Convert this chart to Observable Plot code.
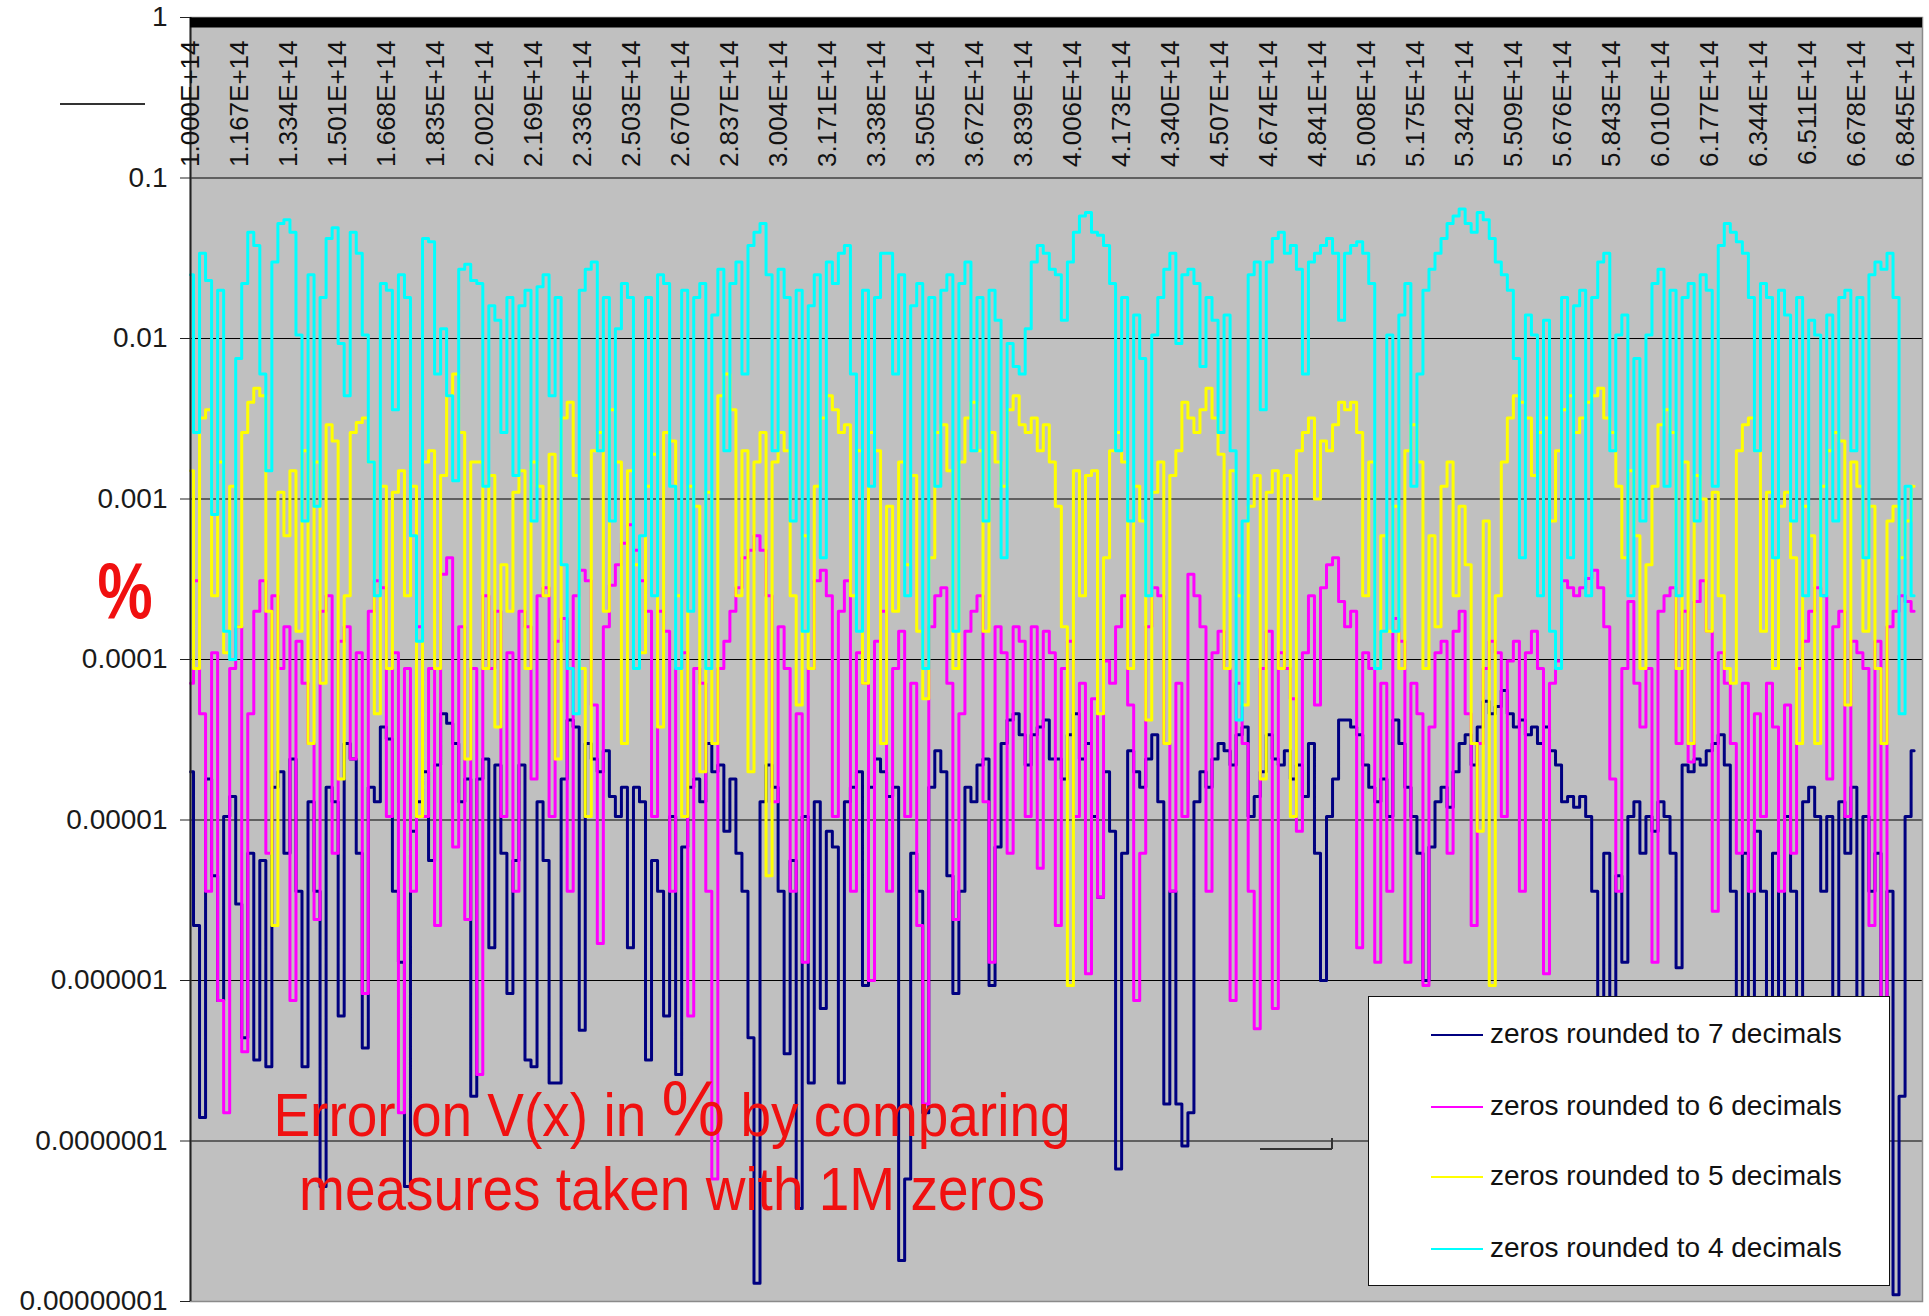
<!DOCTYPE html>
<html>
<head>
<meta charset="utf-8">
<script src="https://cdn.jsdelivr.net/npm/d3@7"></script>
<script src="https://cdn.jsdelivr.net/npm/@observablehq/plot@0.6"></script>
<style>
  html, body { margin: 0; padding: 0; background: #fff; }
  #wrap { position: relative; width: 1929px; height: 1316px; overflow: hidden;
          font-family: "Liberation Sans", Arial, sans-serif; }
  #chart svg { display: block; }
  .legend { position: absolute; left: 1368px; top: 996px; width: 522px; height: 290px;
            background: #fff; border: 1.5px solid #111; box-sizing: border-box; }
  .swatch { position: absolute; left: 62px; width: 52px; height: 0; border-top: 2px solid; }
  .ltext { position: absolute; left: 121px; font-size: 28px; line-height: 28px; white-space: nowrap; color: #111; }
  .note { position: absolute; left: 672px; color: #f01010; font-size: 55px; line-height: 55px;
          white-space: nowrap; transform: translateX(-50%) scaleY(1.1); transform-origin: 50% 47px; }
  .ylab { position: absolute; left: 125px; top: 566px; color: #f01010; font-weight: bold; font-size: 62px;
          line-height: 62px; transform: translateX(-50%) scaleY(1.3); transform-origin: 50% 52px; }
  .stray { position: absolute; background: #333; }
</style>
</head>
<body>
<div id="wrap">
  <div id="chart"></div>
</div>
<script>
// ---------- data ----------
const seriesNames = [
  "zeros rounded to 7 decimals",
  "zeros rounded to 6 decimals",
  "zeros rounded to 5 decimals",
  "zeros rounded to 4 decimals"
];
const seriesColors = ["#000080", "#ff00ff", "#ffff00", "#00ffff"];

const xStart = 1.000e14;   // first category
const xStep = 2.054e12;    // category spacing
const xDomain = [1.000e14, 6.903e14];

const xTickLabels = ["1.000E+14","1.167E+14","1.334E+14","1.501E+14","1.668E+14","1.835E+14",
  "2.002E+14","2.169E+14","2.336E+14","2.503E+14","2.670E+14","2.837E+14","3.004E+14","3.171E+14",
  "3.338E+14","3.505E+14","3.672E+14","3.839E+14","4.006E+14","4.173E+14","4.340E+14","4.507E+14",
  "4.674E+14","4.841E+14","5.008E+14","5.175E+14","5.342E+14","5.509E+14","5.676E+14","5.843E+14",
  "6.010E+14","6.177E+14","6.344E+14","6.511E+14","6.678E+14","6.845E+14"];

const yTicks = [1, 0.1, 0.01, 0.001, 0.0001, 0.00001, 0.000001, 0.0000001, 0.00000001];
const yTickLabels = ["1","0.1","0.01","0.001","0.0001","0.00001","0.000001","0.0000001","0.00000001"];

// zeros rounded to 7 decimals (navy)
const err7 = [
  2e-5,2.2e-6,1.4e-7,1.8e-5,4.5e-6,7.5e-7,1.05e-5,1.4e-5,3e-6,4.4e-7,
  6.2e-6,3.2e-7,5.6e-6,2.9e-7,1.6e-5,2e-5,6.2e-6,2.4e-5,3.6e-6,2.9e-7,
  1.3e-5,3.6e-6,5.2e-8,1.6e-5,1.3e-5,6e-7,3e-5,2.4e-5,6.2e-6,3.8e-7,
  1.6e-5,1.3e-5,3.8e-5,3.2e-5,3.6e-6,1.3e-6,5.2e-8,8.5e-6,1.3e-5,2e-5,
  5.6e-6,2.2e-5,4.6e-5,4e-5,3e-5,1.3e-5,1.8e-5,1.9e-7,
  1.8e-5,2.4e-5,1.6e-6,2.2e-5,6.2e-6,8.3e-7,5.6e-6,2.2e-5,3.2e-7,2.9e-7,
  1.3e-5,5.6e-6,2.3e-7,2.3e-7,1.8e-5,4.2e-5,3.8e-5,4.9e-7,3e-5,2.4e-5,
  2e-5,2.7e-5,1.4e-5,1.05e-5,1.6e-5,1.6e-6,1.6e-5,1.3e-5,3.2e-7,5.6e-6,
  3.6e-6,6e-7,1.05e-5,2.6e-7,6.8e-6,1.6e-5,1.8e-5,1.3e-5,3e-5,2e-5,
  2.2e-5,8.5e-6,1.8e-5,6.2e-6,3.6e-6,4.4e-7,1.3e-8,1.3e-5,
  2.2e-5,1.6e-5,3.6e-6,3.5e-7,5.6e-6,3.8e-8,1.05e-5,2.3e-7,1.3e-5,6.7e-7,
  8.5e-6,6.8e-6,2.3e-7,1.3e-5,1.6e-5,2e-5,9.3e-7,1.6e-5,2.4e-5,2e-5,
  1.4e-5,1.6e-5,1.8e-8,5.8e-8,6.2e-6,3.6e-6,1.5e-7,1.6e-5,2.7e-5,2e-5,
  4.5e-6,8.3e-7,3.6e-6,1.6e-5,1.3e-5,2.2e-5,2.4e-5,9.3e-7,6.8e-6,3e-5,
  4.2e-5,4.6e-5,3.4e-5,2.2e-5,3.4e-5,3.8e-5,4.2e-5,2.4e-5,
  2.4e-5,1.8e-5,3.4e-5,4.6e-5,2.4e-5,3e-5,1.05e-5,3.3e-6,2e-5,8.5e-6,
  6.7e-8,6.2e-6,2.7e-5,2e-5,1.6e-5,2.4e-5,3.4e-5,1.3e-5,1.7e-7,3.6e-6,
  1.7e-7,9.3e-8,1.5e-7,1.3e-5,2e-5,1.6e-5,2.4e-5,3e-5,2.7e-5,2.2e-5,
  3.4e-5,3.8e-5,1.05e-5,1.4e-5,2e-5,3.4e-5,2.4e-5,2.2e-5,2.7e-5,1.8e-5,
  2.2e-5,1.4e-5,3e-5,6.2e-6,1e-6,1.05e-5,1.8e-5,4.2e-5,
  4.2e-5,3.8e-5,3.4e-5,2.2e-5,1.6e-5,1.3e-5,1.8e-5,1.05e-5,4.2e-5,3e-5,
  1.6e-5,1.05e-5,6.2e-6,1e-6,6.8e-6,1.3e-5,1.6e-5,1.2e-5,2e-5,3e-5,
  3.4e-5,2.2e-5,3.8e-5,5.5e-5,4.6e-5,5.1e-5,6.4e-5,4.6e-5,3.8e-5,4.2e-5,
  3.4e-5,3.8e-5,3e-5,3.8e-5,2.7e-5,2.2e-5,1.3e-5,1.4e-5,1.2e-5,1.4e-5,
  1.05e-5,3.6e-6,4.4e-7,6.2e-6,5.3e-7,4.5e-6,1.3e-6,1.05e-5,
  1.3e-5,6.2e-6,1.05e-5,8.5e-6,1.3e-5,1.05e-5,6.2e-6,1.2e-6,2.2e-5,2e-5,
  2.4e-5,2.2e-5,2.7e-5,3e-5,3.4e-5,2.2e-5,3.6e-6,2.6e-7,6.2e-6,4.4e-7,
  8.5e-6,3.6e-6,1.5e-7,6.2e-6,2.6e-7,1.05e-5,3.6e-6,4.4e-7,1.3e-5,1.6e-5,
  1.05e-5,3.6e-6,1.05e-5,4.4e-7,1.3e-5,6.2e-6,1.6e-5,7.5e-7,1.05e-5,3.6e-6,
  6.2e-6,1.5e-7,3.6e-6,1.1e-8,1.9e-7,1.05e-5,2.7e-5
];

// zeros rounded to 6 decimals (magenta)
const err6 = [
  7.1e-5,3.1e-4,4.6e-5,3.6e-6,1.1e-4,7.5e-7,1.5e-7,8.8e-5,1.6e-4,3.6e-7,
  4.6e-5,2e-4,3.1e-4,6.2e-6,2.5e-4,8.8e-5,1.6e-4,7.5e-7,1.3e-4,7.1e-5,
  3e-5,2.4e-6,2e-4,2.5e-4,6.2e-6,1.3e-4,1.6e-4,2.4e-5,1.1e-4,8.3e-7,
  2e-4,3.1e-4,2.8e-4,1.05e-5,1.1e-4,1.5e-7,8.8e-5,3.6e-6,1.6e-4,1.05e-5,
  8.8e-5,2.2e-6,3.4e-4,4.3e-4,6.8e-6,1.6e-4,2.4e-6,8.8e-5,
  2.6e-7,2.5e-4,8.8e-5,2e-4,1.05e-5,1.1e-4,3.6e-6,2e-4,1.6e-4,1.8e-5,
  2.5e-4,2.8e-4,1.05e-5,1.3e-4,1.8e-4,3.6e-6,2.5e-4,3.6e-4,3.1e-4,5.2e-5,
  1.7e-6,1.6e-4,2.9e-4,3.9e-4,5.3e-4,6.9e-4,4.8e-4,3.1e-4,2e-4,1.05e-5,
  2e-4,1.5e-4,3.6e-6,8.8e-5,1.1e-4,6e-7,8.8e-5,7.1e-5,3.6e-6,5.8e-8,
  8.8e-5,1.3e-4,2e-4,2.8e-4,4.3e-4,4.8e-4,5.9e-4,4.8e-4,
  2.5e-4,1.3e-5,1.6e-4,8.8e-5,3.6e-6,4.6e-5,1.3e-6,8.8e-5,3.1e-4,3.6e-4,
  2.5e-4,1.05e-5,2e-4,3.1e-4,3.6e-6,1.1e-4,7.1e-5,1e-6,1.3e-4,2e-4,
  3.6e-6,8.8e-5,1.5e-4,1.05e-5,7.1e-5,2.2e-6,1.7e-7,1.6e-4,2.5e-4,2.8e-4,
  7.1e-5,2.4e-6,4.6e-5,1.5e-4,2e-4,2.5e-4,1.3e-5,1.3e-6,1.6e-4,1.1e-4,
  6.2e-6,1.6e-4,1.3e-4,1.05e-5,1.6e-4,5e-6,1.5e-4,1.1e-4,
  2.2e-6,8.8e-5,1.3e-4,1.05e-5,7.1e-5,1.1e-6,5.7e-5,3.3e-6,9.8e-5,7.1e-5,
  1.6e-4,2.5e-4,5.2e-5,7.5e-7,6.2e-6,1.6e-4,2.8e-4,2.5e-4,3e-5,3.6e-6,
  7.1e-5,1.05e-5,3.4e-4,2.5e-4,1.6e-4,3.6e-6,1.1e-4,1.5e-4,8.8e-5,7.5e-7,
  7.1e-5,3e-5,3.6e-6,5e-7,8.8e-5,1.5e-4,6.7e-7,1.1e-4,8.8e-5,5.7e-5,
  8.5e-6,1.1e-4,2.5e-4,5.2e-5,2.8e-4,3.9e-4,4.3e-4,2.3e-4,
  1.6e-4,2e-4,1.6e-6,1.1e-4,8.8e-5,1.3e-6,7.1e-5,3.6e-6,1.8e-4,1.3e-4,
  1.3e-6,7.1e-5,4.6e-5,9.3e-7,3.8e-5,1.1e-4,1.3e-4,6.2e-6,1.5e-4,2e-4,
  4.6e-5,2.2e-6,3e-5,8.8e-5,1.3e-4,1.1e-4,1.05e-5,9.8e-5,1.3e-4,3.6e-6,
  1.1e-4,1.5e-4,8.8e-5,1.1e-6,7.1e-5,9.8e-5,3.1e-4,2.8e-4,2.5e-4,2.8e-4,
  3.2e-4,3.6e-4,2.8e-4,1.6e-4,1.8e-5,3.6e-6,8.8e-5,2.3e-4,
  7.1e-5,3.8e-5,8.8e-5,1.3e-6,2e-4,2.5e-4,2.8e-4,3e-5,2e-4,2.3e-5,
  2.3e-4,3.1e-4,1.5e-4,2.7e-6,1.1e-4,7.1e-5,3e-5,6.2e-6,7.1e-5,3.6e-6,
  4.6e-5,1.05e-5,7.1e-5,3.8e-5,3.6e-6,5.2e-5,6.2e-6,8.8e-5,1.3e-4,2e-4,
  2.8e-4,2.5e-4,1.8e-5,1.6e-4,2e-4,1.05e-5,1.3e-4,1.1e-4,8.8e-5,2.2e-6,
  1.3e-4,7.5e-7,1.6e-4,2e-4,2.5e-4,2.3e-4,2e-4
];

// zeros rounded to 5 decimals (yellow)
const err5 = [
  1.5e-3,8.8e-5,3.2e-3,3.6e-3,2.5e-4,1.7e-3,1.1e-4,1.2e-3,1.6e-4,2.6e-3,
  4e-3,4.9e-3,4.4e-3,2e-4,2.2e-6,1.1e-3,5.9e-4,1.5e-3,1.5e-4,2e-3,
  3e-5,1.7e-3,7.1e-5,2.9e-3,2.3e-3,1.8e-5,2.5e-4,2.6e-3,3e-3,3.2e-3,
  1.7e-3,4.6e-5,1.2e-3,8.8e-5,1.1e-3,1.5e-3,2.5e-4,1.2e-3,1.05e-5,1.7e-3,
  2e-3,8.8e-5,1.4e-3,4.4e-3,6e-3,2.6e-3,2.4e-5,1.7e-3,
  1.7e-3,8.8e-5,1.4e-3,3.8e-5,3.9e-4,2e-4,1.1e-3,1.5e-3,8.8e-5,1.7e-3,
  1.2e-3,2.5e-4,1.9e-3,2.4e-5,3.2e-3,4e-3,1.4e-3,8.8e-5,1.05e-5,2e-3,
  2.6e-3,2e-4,3.6e-3,1.7e-3,3e-5,1.5e-3,3.9e-4,1.1e-4,1.2e-3,1.9e-3,
  3.8e-5,2.6e-3,2.3e-3,2.5e-4,1.05e-5,1.2e-3,9e-4,2e-5,1.1e-3,3e-5,
  4.4e-3,6e-3,3.6e-3,2.5e-4,2e-3,2e-5,1.7e-3,2.6e-3,
  4.5e-6,1.7e-3,2.6e-3,2e-3,2.5e-4,5.2e-5,5.9e-4,8.8e-5,1.2e-3,3.2e-3,
  4.4e-3,3.6e-3,2.6e-3,2.9e-3,2.5e-4,2e-3,7.1e-5,2.6e-3,2e-3,3e-5,
  9e-4,2e-4,1.7e-3,3.9e-4,1.4e-3,1.5e-4,5.7e-5,4.3e-4,2.6e-3,2.9e-3,
  1.5e-3,8.8e-5,1.7e-3,3.2e-3,4e-3,2e-3,1.5e-4,2.6e-3,1.7e-3,1.2e-3,
  3.6e-3,4.4e-3,2.9e-3,2.6e-3,3.2e-3,2e-3,2.9e-3,1.7e-3,
  9e-4,1.6e-4,9.3e-7,1.5e-3,2.5e-4,1.4e-3,1.5e-3,4.6e-5,4.3e-4,2e-3,
  2.6e-3,1.7e-3,8.8e-5,1.2e-3,7.3e-4,4.2e-5,1.1e-3,1.7e-3,3e-5,1.4e-3,
  2e-3,4e-3,3.2e-3,2.6e-3,3.6e-3,4.9e-3,3.2e-3,1.9e-3,8.8e-5,1.5e-3,
  2.5e-4,5.2e-5,9e-4,1.4e-3,1.8e-5,1.1e-3,1.5e-3,8.8e-5,1.4e-3,1.05e-5,
  2e-3,2.6e-3,3.2e-3,1e-3,2.3e-3,2e-3,2.9e-3,4e-3,
  3.6e-3,4e-3,2.6e-3,2.5e-4,1.7e-3,8.8e-5,5.9e-4,1.5e-4,9e-4,8.8e-5,
  2e-3,2.9e-3,1.7e-3,8.8e-5,5.9e-4,1.6e-4,1.2e-3,1.7e-3,2.5e-4,9e-4,
  3.9e-4,3e-5,8.5e-6,7.3e-4,9.3e-7,2.5e-4,1.7e-3,3.2e-3,4.4e-3,4e-3,
  3.2e-3,1.4e-3,2.6e-3,3.2e-3,7.3e-4,2e-3,3.6e-3,4.4e-3,2.6e-3,3.2e-3,
  4e-3,4.4e-3,4.9e-3,3.2e-3,2.6e-3,1.2e-3,4.3e-4,1.5e-3,
  5.9e-4,8.8e-5,3.9e-4,1.2e-3,2.9e-3,3.6e-3,2.6e-3,8.8e-5,1.7e-3,3e-5,
  1.4e-3,1e-3,1.5e-4,1.1e-3,2.5e-4,8.8e-5,7.1e-5,2e-3,2.9e-3,3.2e-3,
  2e-3,1.5e-4,1.1e-3,8.8e-5,9e-4,1.1e-3,4.3e-4,3e-5,9e-4,5.9e-4,
  3e-5,1.2e-3,2e-3,2.6e-3,2.3e-3,5.2e-5,1.7e-3,1.2e-3,1.5e-4,9e-4,
  8.8e-5,3e-5,7.3e-4,9e-4,4.3e-4,7.3e-4,1.2e-3
];

// zeros rounded to 4 decimals (cyan)
const err4 = [
  2.5e-2,2.6e-3,3.4e-2,2.3e-2,8e-4,2e-2,1.5e-4,1e-4,7.5e-3,2.2e-2,
  4.6e-2,3.8e-2,6e-3,1.5e-3,3e-2,5.2e-2,5.5e-2,4.6e-2,1.05e-2,7.3e-4,
  2.5e-2,9e-4,1.8e-2,4.2e-2,4.9e-2,9.3e-3,4.4e-3,4.6e-2,3.4e-2,1.05e-2,
  1.7e-3,2.5e-4,2.2e-2,2e-2,3.6e-3,2.5e-2,1.8e-2,5.9e-4,1.3e-4,4.2e-2,
  4e-2,6e-3,1.15e-2,4.4e-3,1.3e-3,2.7e-2,2.9e-2,2.3e-2,
  2.2e-2,1.2e-3,1.6e-2,1.3e-2,2.6e-3,1.8e-2,1.4e-3,1.6e-2,2e-2,7.3e-4,
  2.1e-2,2.5e-2,4.4e-3,1.8e-2,3.9e-4,8.8e-5,4.6e-5,2e-2,2.7e-2,3e-2,
  2e-3,1.8e-2,7.3e-4,1.15e-2,2.2e-2,1.8e-2,8.8e-5,5.9e-4,1.8e-2,2.5e-4,
  2.5e-2,2.2e-2,1.2e-3,8.8e-5,2e-2,2e-4,1.8e-2,2.2e-2,8.8e-5,1.4e-2,
  2.7e-2,2e-3,2.2e-2,3e-2,6e-3,3.8e-2,4.6e-2,5.2e-2,
  2.5e-2,2e-3,2.7e-2,1.8e-2,7.3e-4,2e-2,1.5e-4,1.6e-2,2.5e-2,4.3e-4,
  3e-2,2.2e-2,3.4e-2,3.8e-2,6e-3,1.5e-4,2e-2,1.2e-3,1.8e-2,3.4e-2,
  3.4e-2,6e-3,2.5e-2,2.5e-4,1.6e-2,2.2e-2,8.8e-5,1.8e-2,1.2e-3,2e-2,
  2.5e-2,1.5e-4,2.2e-2,3e-2,2e-3,1.8e-2,7.3e-4,2e-2,1.3e-2,4.3e-4,
  9.3e-3,6.7e-3,6e-3,1.15e-2,3e-2,3.8e-2,3.4e-2,2.7e-2,
  2.5e-2,1.3e-2,3e-2,4.6e-2,5.8e-2,6.1e-2,4.6e-2,4.4e-2,3.8e-2,2.2e-2,
  2e-3,1.8e-2,7.3e-4,1.4e-2,7.5e-3,2.5e-4,1.05e-2,1.8e-2,2.7e-2,3.4e-2,
  9.3e-3,2.5e-2,2.7e-2,2.2e-2,6.7e-3,1.8e-2,1.3e-2,2.6e-3,1.4e-2,2e-3,
  4.2e-5,7.3e-4,2.5e-2,3e-2,3.6e-3,3e-2,4.2e-2,4.6e-2,3.4e-2,3.8e-2,
  2.7e-2,6e-3,3e-2,3.4e-2,3.8e-2,4.2e-2,3.4e-2,1.3e-2,
  3.4e-2,3.8e-2,4e-2,3.4e-2,2.2e-2,8.8e-5,1.5e-4,1.05e-2,1.5e-4,1.4e-2,
  2.2e-2,1.2e-3,6e-3,2e-2,2.7e-2,3.4e-2,4.2e-2,5.2e-2,5.8e-2,6.4e-2,
  5.2e-2,4.6e-2,6.1e-2,5.5e-2,4.2e-2,3e-2,2.5e-2,2e-2,7.5e-3,4.3e-4,
  1.4e-2,1.05e-2,2.5e-4,1.3e-2,1.5e-4,8.8e-5,1.8e-2,4.3e-4,1.6e-2,2e-2,
  2.5e-4,1.8e-2,3e-2,3.4e-2,2e-3,1.05e-2,1.4e-2,2.5e-4,
  7.5e-3,7.3e-4,1.05e-2,2.2e-2,2.7e-2,1.2e-3,2e-2,2.5e-4,1.8e-2,2.2e-2,
  7.3e-4,2.5e-2,2e-2,1.2e-3,3.8e-2,5.2e-2,4.6e-2,4e-2,3.4e-2,1.8e-2,
  2e-3,2.2e-2,1.8e-2,4.3e-4,2e-2,1.4e-2,7.3e-4,1.8e-2,2.5e-4,1.3e-2,
  1.05e-2,2.5e-4,1.4e-2,7.3e-4,1.8e-2,2e-2,2e-3,1.8e-2,4.3e-4,2.5e-2,
  3e-2,2.7e-2,3.4e-2,1.8e-2,4.6e-5,1.2e-3,2.5e-4
];

// ---------- build ----------
const seriesValues = [err7, err6, err5, err4];
const rowsOf = vals => vals.map((v, i) => ({x: xStart + i * xStep, v}));
const xTickValues = xTickLabels.map(Number);
const yLabelMap = new Map(yTicks.map((t, i) => [t, yTickLabels[i]]));

const chart = Plot.plot({
  width: 1929,
  height: 1316,
  marginLeft: 190,
  marginRight: 7,
  marginTop: 17,
  marginBottom: 15,
  style: {fontFamily: "'Liberation Sans', Arial, sans-serif", background: "transparent", overflow: "visible"},
  x: {domain: xDomain, axis: null},
  y: {type: "log", domain: [1e-8, 1]},
  marks: [
    Plot.frame({fill: "#c0c0c0"}),
    Plot.ruleY(yTicks.slice(1), {stroke: "#000", strokeWidth: 1}),
    ...seriesValues.map((vals, k) =>
      Plot.line(rowsOf(vals), {x: "x", y: "v", stroke: seriesColors[k], strokeWidth: 3, curve: "step"})
    ),
    Plot.frame({stroke: "#8a8a8a", strokeWidth: 1.5}),
    Plot.ruleX([xDomain[0]], {stroke: "#222", strokeWidth: 2}),
    Plot.ruleY([1], {stroke: "#000", strokeWidth: 10, dy: 5}),
    Plot.axisY({ticks: yTicks, tickFormat: d => yLabelMap.get(d), tickSize: 10, tickPadding: 13,
                fontSize: 28, fill: "#1a1a1a", stroke: "#222", label: null}),
    Plot.text(xTickValues, {x: d => d, text: (d, i) => xTickLabels[i], frameAnchor: "top",
                rotate: -90, textAnchor: "end", lineAnchor: "middle", dy: 23, fontSize: 26, fill: "#111"})
  ]
});
document.getElementById("chart").appendChild(chart);

const wrap = document.getElementById("wrap");

// legend
const legend = document.createElement("div");
legend.className = "legend";
const rowCenters = [38, 110, 180, 252];
seriesNames.forEach((name, k) => {
  const sw = document.createElement("div");
  sw.className = "swatch";
  sw.style.top = (rowCenters[k] - 1) + "px";
  sw.style.borderTopColor = seriesColors[k];
  legend.appendChild(sw);
  const t = document.createElement("div");
  t.className = "ltext";
  t.style.top = (rowCenters[k] - 15) + "px";
  t.textContent = name;
  legend.appendChild(t);
});
wrap.appendChild(legend);

// annotation
const note1 = document.createElement("div");
note1.className = "note";
note1.style.top = "1090px";
note1.innerHTML = 'Error on V(x) in <span style="font-size:1.3em;line-height:0">%</span> by comparing';
wrap.appendChild(note1);
const note2 = document.createElement("div");
note2.className = "note";
note2.style.top = "1164px";
note2.textContent = "measures taken with 1M zeros";
wrap.appendChild(note2);

// y label
const ylab = document.createElement("div");
ylab.className = "ylab";
ylab.textContent = "%";
wrap.appendChild(ylab);

// stray strokes present in the original picture
[[60, 103, 85, 2], [1260, 1148, 72, 1.5], [1331, 1138, 1.5, 11]].forEach(([l, t, w, h]) => {
  const s = document.createElement("div");
  s.className = "stray";
  Object.assign(s.style, {left: l + "px", top: t + "px", width: w + "px", height: h + "px"});
  wrap.appendChild(s);
});
</script>
</body>
</html>
